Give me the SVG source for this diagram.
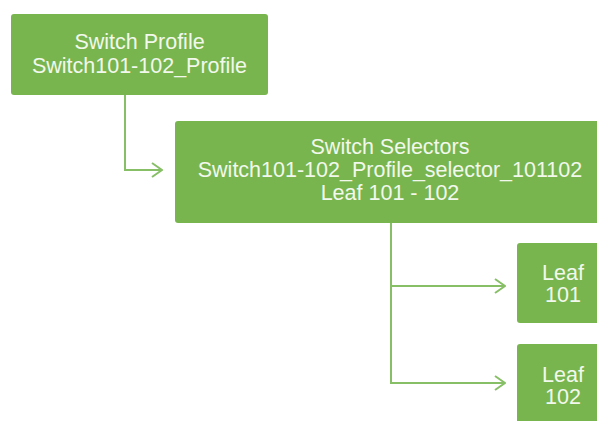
<svg xmlns="http://www.w3.org/2000/svg" width="597" height="421" viewBox="0 0 597 421">
<style>
.box{fill:#78b54f;}
.t{font-family:"Liberation Sans",Arial,sans-serif;font-size:21.5px;fill:#f2f8ec;text-anchor:middle;}
.c{fill:none;stroke:#86bf66;stroke-width:2;}
</style>
<defs>
<marker id="ah" viewBox="0 0 12 16" refX="11" refY="8" markerWidth="12" markerHeight="16" markerUnits="userSpaceOnUse" orient="auto">
<path d="M1,1 L11,8 L1,15" fill="none" stroke="#86bf66" stroke-width="2"/>
</marker>
</defs>
<rect width="597" height="421" fill="#ffffff"/>
<g id="connectors">
<path class="c" d="M125,95 V170 H162" marker-end="url(#ah)"/>
<path class="c" d="M391,223 V383 H505" marker-end="url(#ah)"/>
<path class="c" d="M391,286 H505" marker-end="url(#ah)"/>
</g>
<g id="switch-profile">
<rect class="box" x="11" y="14" width="257" height="81" rx="3"/>
<text class="t" x="139.5" y="49">Switch Profile</text>
<text class="t" x="139.5" y="73">Switch101-102_Profile</text>
</g>
<g id="switch-selectors">
<rect class="box" x="175" y="121" width="430" height="102" rx="3"/>
<text class="t" x="390" y="154">Switch Selectors</text>
<text class="t" x="390" y="177">Switch101-102_Profile_selector_101102</text>
<text class="t" x="390" y="200">Leaf 101 - 102</text>
</g>
<g id="leaf-101">
<rect class="box" x="517" y="243" width="90" height="80" rx="3"/>
<text class="t" x="563" y="280">Leaf</text>
<text class="t" x="563" y="302">101</text>
</g>
<g id="leaf-102">
<rect class="box" x="517" y="344" width="90" height="90" rx="3"/>
<text class="t" x="563" y="382">Leaf</text>
<text class="t" x="563" y="404">102</text>
</g>
</svg>
